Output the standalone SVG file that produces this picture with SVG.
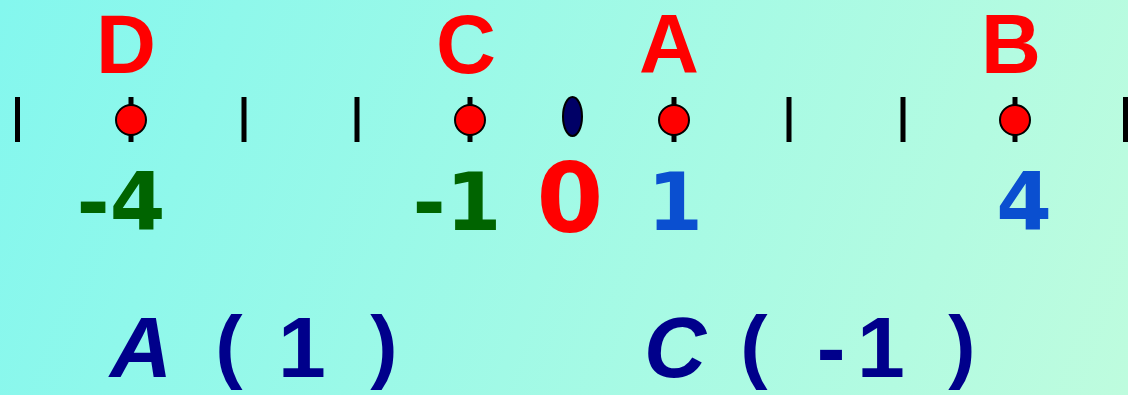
<svg xmlns="http://www.w3.org/2000/svg" width="1128" height="395" viewBox="0 0 1128 395">
<defs>
<linearGradient id="bg" x1="0" y1="0" x2="1128" y2="395" gradientUnits="userSpaceOnUse">
<stop offset="0" stop-color="#84F7EE"/>
<stop offset="1" stop-color="#BEFCDE"/>
</linearGradient>
</defs>
<style>
.tick{fill:#000}
.pt{fill:#ff0000;stroke:#000;stroke-width:2}
.lbl{font-family:"Liberation Sans",Arial,sans-serif;font-weight:bold;font-size:83px;fill:#ff0000;text-anchor:middle}
.num{font-family:"DejaVu Sans",sans-serif;font-weight:bold;font-size:80px;text-anchor:middle}
.neg{fill:#006400}
.pos{fill:#0a4fd0}
.zero{font-size:96px;fill:#ff0000}
.coord{font-family:"Liberation Sans",Arial,sans-serif;font-weight:bold;font-size:86px;fill:#00008b;text-anchor:middle}
.par{font-size:82px}
.it{font-style:italic}
</style>
<rect width="1128" height="395" fill="url(#bg)"/>
<g id="axis">
<rect class="tick" x="15" y="97" width="5" height="45"/>
<rect class="tick" x="128.5" y="97" width="5" height="45"/>
<rect class="tick" x="241.5" y="97" width="5" height="45"/>
<rect class="tick" x="354.5" y="97" width="5" height="45"/>
<rect class="tick" x="467.5" y="97" width="5" height="45"/>
<rect class="tick" x="671.5" y="97" width="5" height="45"/>
<rect class="tick" x="786.5" y="97" width="5" height="45"/>
<rect class="tick" x="900.5" y="97" width="5" height="45"/>
<rect class="tick" x="1012.5" y="97" width="5" height="45"/>
<rect class="tick" x="1123" y="97" width="5" height="45"/>
</g>
<g id="origin"><ellipse cx="572.5" cy="116.5" rx="9.5" ry="19.5" fill="#000066" stroke="#000" stroke-width="2"/></g>
<g id="pointD"><circle class="pt" cx="131" cy="120" r="15"/><text class="lbl" x="126" y="73">D</text></g>
<g id="pointC"><circle class="pt" cx="470" cy="120" r="15"/><text class="lbl" x="466" y="73">C</text></g>
<g id="pointA"><circle class="pt" cx="674" cy="120" r="15"/><text class="lbl" x="669" y="73">A</text></g>
<g id="pointB"><circle class="pt" cx="1015" cy="120" r="15"/><text class="lbl" x="1011" y="73">B</text></g>
<g id="numbers">
<text class="num neg" x="121" y="230">-4</text>
<text class="num neg" x="457" y="230">-1</text>
<text class="num zero" x="570" y="232">0</text>
<text class="num pos" x="675" y="230">1</text>
<text class="num pos" x="1024" y="230">4</text>
</g>
<g id="coordA">
<text class="coord it" x="141" y="377">A</text>
<text class="coord par" x="229" y="373">(</text>
<text class="coord" x="302" y="377">1</text>
<text class="coord par" x="384" y="373">)</text>
</g>
<g id="coordC">
<text class="coord it" x="675" y="377">C</text>
<text class="coord par" x="754" y="373">(</text>
<text class="coord" x="831" y="377">-</text>
<text class="coord" x="881" y="377">1</text>
<text class="coord par" x="962" y="373">)</text>
</g>
</svg>
